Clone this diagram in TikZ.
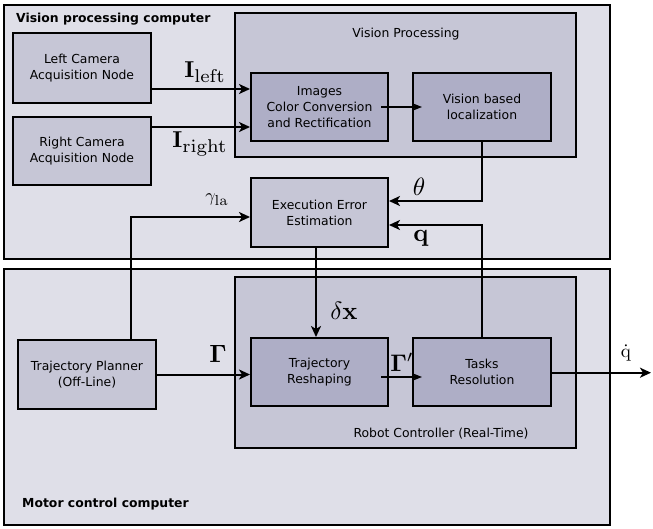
\documentclass[tikz,border=0pt]{standalone}
\usepackage[no-math]{fontspec}
\setmainfont{DejaVu Sans}
\usepackage{graphicx}
\usetikzlibrary{arrows.meta,calc}
\definecolor{outerfill}{HTML}{DFDFE8}
\definecolor{midfill}{HTML}{C6C6D6}
\definecolor{darkfill}{HTML}{AEAEC6}
\tikzset{
  outerbox/.style={draw=black, line width=2pt, fill=outerfill},
  groupbox/.style={draw=black, line width=1.6pt, fill=midfill},
  blockbox/.style={draw=black, line width=2pt, fill=midfill, align=center, font=\fontsize{12.4}{16}\selectfont, inner sep=0pt},
  darkbox/.style={blockbox, fill=darkfill},
  arr/.style={line width=2pt, -{Stealth[length=11pt,width=10pt,inset=3pt]}},
  thinarr/.style={line width=1.2pt, -{Stealth[length=9pt,width=7pt,inset=2pt]}},
  lbl/.style={font=\fontsize{12.4}{16}\selectfont, inner sep=0pt},
  ttl/.style={font=\fontsize{12.4}{16}\selectfont\bfseries, inner sep=0pt, anchor=west},
  mlbl/.style={inner sep=0pt}
}
\newcommand{\mathbig}[1]{\scalebox{2.5}{$#1$}}
\newcommand{\mathmid}[1]{\scalebox{2.4}{$#1$}}
\newcommand{\mathsml}[1]{\scalebox{1.9}{$#1$}}
\newcommand{\subbig}[1]{\scalebox{1.15}{$\scriptstyle\mathrm{#1}$}}
\begin{document}
\begin{tikzpicture}[x=1pt,y=-1pt]
\useasboundingbox (0,0) rectangle (653,528);
% outer computers
\node[outerbox, minimum width=606pt, minimum height=254pt] (vpc) at (307,132) {};
\node[outerbox, minimum width=606pt, minimum height=256pt] (mcc) at (307,397) {};
\node[ttl] (vpct) at (16,19) {Vision processing computer};
\node[ttl] (mcct) at (22,504) {Motor control computer};
% group boxes
\node[groupbox, minimum width=341pt, minimum height=144pt] (vproc) at (405.5,85) {};
\node[lbl] (vproct) at (406,34) {Vision Processing};
\node[groupbox, minimum width=341pt, minimum height=171pt] (rctrl) at (405.5,362.5) {};
\node[lbl] (rctrlt) at (441,434) {Robot Controller (Real-Time)};
% blocks
\node[blockbox, minimum width=138pt, minimum height=70pt] (lcam) at (82,68) {Left Camera\\Acquisition Node};
\node[blockbox, minimum width=138pt, minimum height=68pt] (rcam) at (82,151) {Right Camera\\Acquisition Node};
\node[darkbox, minimum width=137pt, minimum height=68pt] (img) at (319.5,107) {Images\\Color Conversion\\and Rectification};
\node[darkbox, minimum width=138pt, minimum height=68pt] (vbl) at (482,107) {Vision based\\localization};
\node[blockbox, minimum width=137pt, minimum height=69pt] (eee) at (319.5,212.5) {Execution Error\\Estimation};
\node[blockbox, minimum width=138pt, minimum height=69pt] (tplan) at (87,374.5) {Trajectory Planner\\(Off-Line)};
\node[darkbox, minimum width=137pt, minimum height=68pt] (tresh) at (319.5,372) {Trajectory\\Reshaping};
\node[darkbox, minimum width=138pt, minimum height=68pt] (tasks) at (482,372) {Tasks\\Resolution};
\coordinate (qout) at (651,372.7);
% connectors
\draw[arr] ([yshift=-21pt]lcam.east) -- ([yshift=-21pt]lcam.east -| img.west);
\draw[arr] ([yshift=24pt]rcam.east) -- ([yshift=24pt]rcam.east -| img.west);
\draw[thinarr] ([xshift=-8pt]img.east) -- ([xshift=10pt]vbl.west);
\draw[arr] (vbl.south) |- ([yshift=11.5pt]eee.east);
\draw[arr] (tasks.north) |- ([yshift=-12.5pt]eee.east);
\draw[arr] ([xshift=44pt]tplan.north) |- ([yshift=-4.5pt]eee.west);
\draw[arr] ([xshift=-3.5pt]eee.south) -- ([xshift=-3.5pt]tresh.north);
\draw[arr] (tplan.east) -- (tplan.east -| tresh.west);
\draw[thinarr] ([xshift=-8pt,yshift=-5pt]tresh.east) -- ([xshift=10pt,yshift=-5pt]tasks.west);
\draw[arr] ([yshift=-0.7pt]tasks.east) -- (qout);
% labels
\node[mlbl] (lleft) at (205,72) {\scalebox{2.3}{$\mathbf{I}_{\subbig{left}}$}};
\node[mlbl] (lright) at (200,144) {\scalebox{2.3}{$\mathbf{I}_{\subbig{right}}$}};
\node[mlbl] (lgam) at (217,200) {\scalebox{1.8}{$\gamma_{\subbig{la}}$}};
\node[mlbl] (ltheta) at (419,187) {\mathbig{\theta}};
\node[mlbl] (lq) at (421,238) {\mathbig{\mathbf{q}}};
\node[mlbl] (lGam) at (218,354) {\mathbig{\mathbf{\Gamma}}};
\node[mlbl] (ldx) at (344,311) {\mathbig{\delta\mathbf{x}}};
\node[mlbl] (lGamp) at (402,362) {\mathmid{\mathbf{\Gamma}'}};
\node[mlbl] (lqd) at (626,353) {\mathsml{\dot{\mathrm{q}}}};
\end{tikzpicture}
\end{document}
